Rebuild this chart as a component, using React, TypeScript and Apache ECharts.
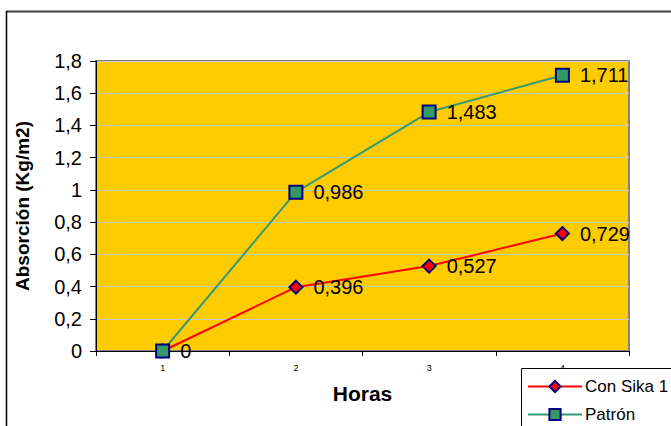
import React, { useEffect, useRef } from "react";
import * as echarts from "echarts";

const hours = ["1", "2", "3", "4"];
const conSika = [0, 0.396, 0.527, 0.729];
const patron = [0, 0.986, 1.483, 1.711];
const seriesNames = ["Con Sika 1", "Patrón"];
const xName = "Horas";
const yName = "Absorción (Kg/m2)";

const FONT = "'Liberation Sans', Arial, sans-serif";
const fmt = (v: number) => String(Math.round(v * 1000) / 1000).replace(".", ",");

export default function App() {
  const ref = useRef<HTMLDivElement>(null);
  useEffect(() => {
    document.body.style.margin = "0";
    const chart = echarts.init(ref.current!, null, { renderer: "svg" });
    const labelCfg = {
      show: true,
      position: "right" as const,
      distance: 10,
      fontSize: 20,
      fontFamily: FONT,
      color: "#000",
      formatter: (p: any) => fmt(p.value),
    };
    chart.setOption({
      animation: false,
      backgroundColor: "#fff",
      textStyle: { fontFamily: FONT },
      grid: {
        left: 96,
        top: 61,
        right: 42,
        bottom: 75,
        show: true,
        backgroundColor: "#FFCC00",
        borderColor: "#808080",
        borderWidth: 2,
      },
      xAxis: {
        type: "category",
        data: hours,
        boundaryGap: true,
        name: xName,
        nameLocation: "middle",
        nameGap: 32,
        nameTextStyle: { fontSize: 21, fontWeight: "bold", color: "#000", fontFamily: FONT },
        axisLine: { show: true, lineStyle: { color: "#000", width: 1 } },
        axisTick: { show: true, length: 5, lineStyle: { color: "#000" } },
        axisLabel: { fontSize: 9, color: "#000", margin: 12, fontFamily: FONT },
        splitLine: { show: false },
      },
      yAxis: {
        type: "value",
        min: 0,
        max: 1.8,
        interval: 0.2,
        name: yName,
        nameLocation: "middle",
        nameGap: 64,
        nameRotate: 90,
        nameTextStyle: { fontSize: 19, fontWeight: "bold", color: "#000", fontFamily: FONT },
        axisLine: { show: true, lineStyle: { color: "#000", width: 1 } },
        axisTick: { show: true, length: 6, lineStyle: { color: "#000" } },
        axisLabel: {
          fontSize: 20,
          color: "#000",
          margin: 14,
          fontFamily: FONT,
          formatter: (v: number) => String(Math.round(v * 10) / 10).replace(".", ","),
        },
        splitLine: { show: true, lineStyle: { color: "#C8C8C8", width: 1 } },
      },
      legend: {
        orient: "vertical",
        left: 527,
        top: 378,
        padding: 0,
        itemWidth: 54,
        itemHeight: 14,
        itemGap: 11,
        z: 60,
        textStyle: { fontSize: 17, color: "#000", fontFamily: FONT, padding: [0, 0, 0, -2] },
        data: seriesNames,
      },
      graphic: [
        {
          type: "line",
          z: 100,
          shape: { x1: 6, y1: 11.5, x2: 671, y2: 11.5 },
          style: { stroke: "#404040", lineWidth: 2 },
        },
        {
          type: "line",
          z: 100,
          shape: { x1: 6.5, y1: 11, x2: 6.5, y2: 426 },
          style: { stroke: "#000", lineWidth: 1.5 },
        },
        {
          type: "rect",
          z: 50,
          shape: { x: 521.5, y: 368.5, width: 200, height: 100 },
          style: { fill: "#fff", stroke: "#000", lineWidth: 1 },
        },
      ],
      series: [
        {
          name: seriesNames[0],
          type: "line",
          data: conSika,
          symbol: "diamond",
          symbolSize: 13,
          lineStyle: { color: "#FF0000", width: 2 },
          itemStyle: { color: "#FF0000", borderColor: "#000080", borderWidth: 2 },
          label: labelCfg,
          z: 2,
        },
        {
          name: seriesNames[1],
          type: "line",
          data: patron.map((v, i) => (i === 0 ? { value: v, label: { show: false } } : v)),
          symbol: "rect",
          symbolSize: 13,
          lineStyle: { color: "#339977", width: 2 },
          itemStyle: { color: "#339966", borderColor: "#000080", borderWidth: 2 },
          label: labelCfg,
          z: 3,
        },
      ],
    });
    return () => chart.dispose();
  }, []);
  return (
    <div
      ref={ref}
      style={{ position: "absolute", left: 0, top: 0, width: 671, height: 426 }}
    />
  );
}
